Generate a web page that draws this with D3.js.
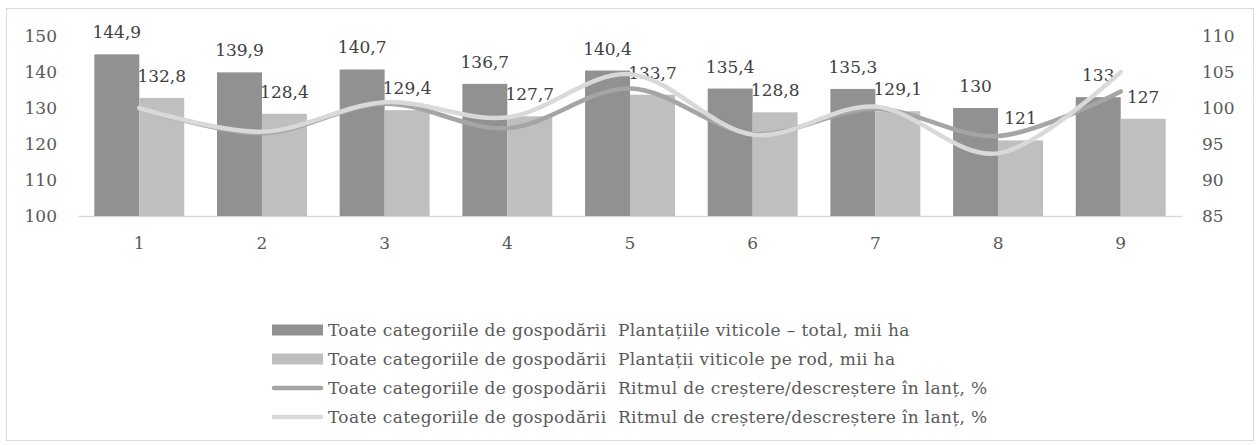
<!DOCTYPE html>
<html>
<head>
<meta charset="utf-8">
<script src="https://cdn.jsdelivr.net/npm/d3@7"></script>
<style>
  body { margin: 0; background: #fff; }
  svg text { font-family: "DejaVu Serif", "Liberation Serif", serif; }
</style>
</head>
<body>
<svg id="chart" width="1259" height="445"></svg>
<script>
"use strict"
// Vineyard areas (bars, left axis) and chain growth rates (lines, right axis)

var categories = ["1", "2", "3", "4", "5", "6", "7", "8", "9"],
    totalArea  = [144.9, 139.9, 140.7, 136.7, 140.4, 135.4, 135.3, 130, 133],   // Plantațiile viticole – total
    fruitArea  = [132.8, 128.4, 129.4, 127.7, 133.7, 128.8, 129.1, 121, 127],   // Plantații viticole pe rod
    totalRate  = [100, 96.5, 100.6, 97.2, 102.7, 96.4, 99.9, 96.1, 102.3],
    fruitRate  = [100, 96.7, 100.8, 98.7, 104.7, 96.3, 100.2, 93.7, 105.0],
    leftTicks  = [100, 110, 120, 130, 140, 150],
    rightTicks = [85, 90, 95, 100, 105, 110],
    legendLabels = [
      "Toate categoriile de gospodării  Plantațiile viticole – total, mii ha",
      "Toate categoriile de gospodării  Plantații viticole pe rod, mii ha",
      "Toate categoriile de gospodării  Ritmul de creștere/descreștere în lanț, %",
      "Toate categoriile de gospodării  Ritmul de creștere/descreștere în lanț, %"
    ];

var svg = d3.select("svg#chart"),
    plot = {left: 78, right: 1182, top: 36, bottom: 216},
    colDark = "#919191", colLight = "#bfbfbf",
    lineDark = "#a5a5a5", lineLight = "#d9d9d9",
    textCol = "#595959";

// outer frame
svg.append("rect")
    .attr("x", 6.5).attr("y", 8.5)
    .attr("width", 1247).attr("height", 432)
    .attr("fill", "#fff").attr("stroke", "#d9d9d9");

var x = d3.scaleBand().domain(categories).range([plot.left, plot.right]).paddingInner(0.267).paddingOuter(0.133),
    xSub = d3.scaleBand().domain([0, 1]).range([0, x.bandwidth()]),
    yL = d3.scaleLinear().domain([100, 150]).range([plot.bottom, plot.top]),
    yR = d3.scaleLinear().domain([85, 110]).range([plot.bottom, plot.top]);

// left axis
var axL = svg.append("g").attr("transform", "translate(" + plot.left + ",0)")
    .call(d3.axisLeft(yL).tickValues(leftTicks).tickSize(0).tickPadding(21));
axL.select(".domain").remove();

// right axis
var axR = svg.append("g").attr("transform", "translate(" + plot.right + ",0)")
    .call(d3.axisRight(yR).tickValues(rightTicks).tickSize(0).tickPadding(20));
axR.select(".domain").remove();

// bottom axis
var axB = svg.append("g").attr("transform", "translate(0," + plot.bottom + ")")
    .call(d3.axisBottom(x).tickSize(0).tickPadding(21));
axB.select(".domain").attr("stroke", "#d9d9d9").attr("stroke-width", 1.5);

svg.selectAll(".tick text")
    .attr("fill", textCol)
    .style("font-size", "17px");

// bars
var series = [
  {values: totalArea, color: colDark},
  {values: fruitArea, color: colLight}
];

var groups = svg.append("g").selectAll("g")
    .data(series).enter().append("g")
    .attr("fill", function(d) { return d.color; });

groups.selectAll("rect")
    .data(function(d, i) { return d.values.map(function(v, j) { return {v: v, c: categories[j], s: i}; }); })
  .enter().append("rect")
    .attr("x", function(d) { return x(d.c) + xSub(d.s); })
    .attr("y", function(d) { return yL(d.v); })
    .attr("width", xSub.bandwidth())
    .attr("height", function(d) { return yL(100) - yL(d.v); });

// smooth rate lines
var line = d3.line()
    .x(function(d, i) { return x(categories[i]) + x.bandwidth() / 2; })
    .y(function(d) { return yR(d); })
    .curve(d3.curveCardinal);

[{values: totalRate, color: lineDark}, {values: fruitRate, color: lineLight}].forEach(function(s) {
  svg.append("path")
      .attr("d", line(s.values))
      .attr("fill", "none")
      .attr("stroke", s.color)
      .attr("stroke-width", 4.5)
      .attr("stroke-linecap", "round");
});

// bar value labels
groups.selectAll("text")
    .data(function(d, i) { return d.values.map(function(v, j) { return {v: v, c: categories[j], s: i}; }); })
  .enter().append("text")
    .attr("x", function(d) { return x(d.c) + xSub(d.s) + xSub.bandwidth() / 2; })
    .attr("y", function(d) { return yL(d.v) - 16; })
    .attr("text-anchor", "middle")
    .attr("fill", "#404040")
    .style("font-size", "17px")
    .text(function(d) { return String(d.v).replace(".", ","); });

// legend
var legend = svg.append("g").attr("transform", "translate(272,330)");
var legItems = legend.selectAll("g")
    .data(legendLabels).enter().append("g")
    .attr("transform", function(d, i) { return "translate(0," + (i * 29) + ")"; });

legItems.each(function(d, i) {
  var g = d3.select(this);
  if (i < 2) {
    g.append("rect").attr("x", 0).attr("y", -5.5).attr("width", 51).attr("height", 11)
        .attr("fill", i == 0 ? colDark : colLight);
  } else {
    g.append("line").attr("x1", 2).attr("x2", 49).attr("y1", 0).attr("y2", 0)
        .attr("stroke", i == 2 ? lineDark : lineLight)
        .attr("stroke-width", 4.5).attr("stroke-linecap", "round");
  }
  g.append("text").attr("x", 56).attr("y", 6)
      .attr("fill", textCol)
      .style("font-size", "17px")
      .style("letter-spacing", "0.35px")
      .style("white-space", "pre")
      .text(d);
});
</script>
</body>
</html>
